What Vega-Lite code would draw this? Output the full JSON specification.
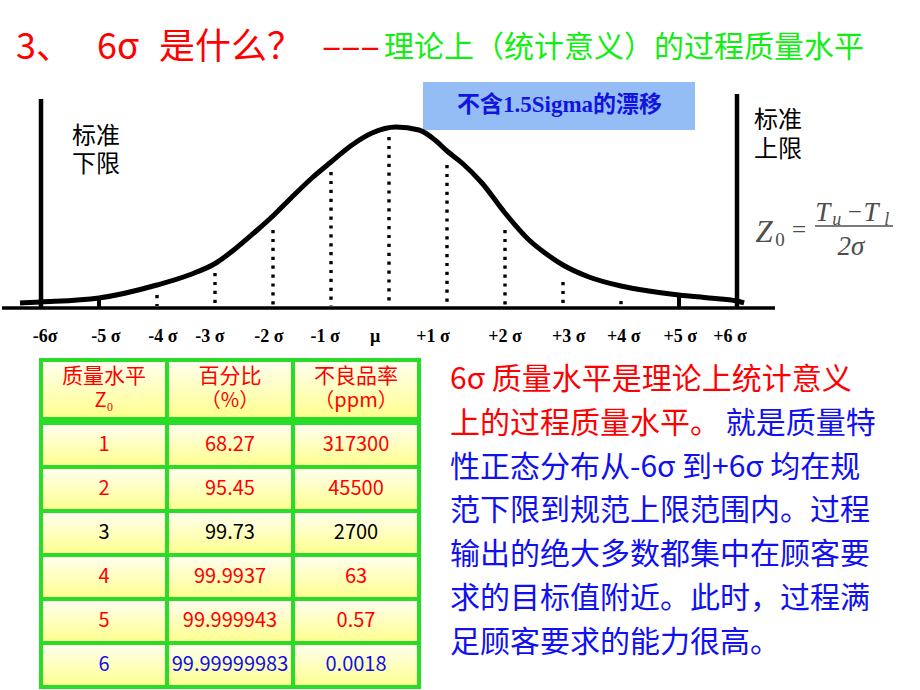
{
  "$schema": "https://vega.github.io/schema/vega-lite/v6.json",
  "padding": 0,
  "background": "white",
  "spacing": 0,
  "config": {"view": {"stroke": null}, "concat": {"spacing": 0}},
  "resolve": {"scale": {"color": "independent"}},
  "vconcat": [
    {
      "width": 920,
      "height": 355,
      "encoding": {
        "x": {"field": "s", "type": "quantitative", "scale": {"domain": [-6.6724, 9.1897], "nice": false, "zero": false}, "axis": null},
        "y": {"field": "h", "type": "quantitative", "scale": {"domain": [-47, 308], "nice": false, "zero": false}, "axis": null}
      },
      "layer": [
        {
          "data": {"values": [{"s": 0.586, "s2": 5.276, "h": 178, "h2": 226}]},
          "mark": {"type": "rect", "fill": "#94BDF5"},
          "encoding": {"x2": {"field": "s2"}, "y2": {"field": "h2"}}
        },
        {
          "data": {"values": [{"s": 2.94, "h": 203, "text": "不含1.5Sigma的漂移"}]},
          "mark": {"type": "text", "font": "Liberation Serif, Noto Sans CJK SC", "fontWeight": "bold", "fontSize": 23, "fill": "#1414E0", "align": "center", "baseline": "middle"},
          "encoding": {"text": {"field": "text"}}
        },
        {
          "data": {"values": [
            {"s": -6.362, "h": 5}, {"s": -6.0, "h": 6}, {"s": -5.0, "h": 10}, {"s": -4.0, "h": 23},
            {"s": -3.448, "h": 33}, {"s": -2.983, "h": 45}, {"s": -2.655, "h": 59}, {"s": -2.31, "h": 76},
            {"s": -1.983, "h": 93}, {"s": -1.672, "h": 111}, {"s": -1.328, "h": 130}, {"s": -1.0, "h": 146},
            {"s": -0.638, "h": 163}, {"s": -0.293, "h": 175}, {"s": 0.12, "h": 181}, {"s": 0.517, "h": 178},
            {"s": 0.793, "h": 168}, {"s": 1.0, "h": 157}, {"s": 1.259, "h": 145}, {"s": 1.603, "h": 125},
            {"s": 2.0, "h": 95}, {"s": 2.414, "h": 68}, {"s": 2.69, "h": 55}, {"s": 3.0, "h": 43},
            {"s": 3.448, "h": 31}, {"s": 4.0, "h": 22}, {"s": 4.483, "h": 17}, {"s": 5.0, "h": 13},
            {"s": 5.517, "h": 10}, {"s": 6.0, "h": 7}, {"s": 6.121, "h": 5}
          ]},
          "mark": {"type": "line", "color": "black", "strokeWidth": 5, "interpolate": "monotone"}
        },
        {
          "data": {"values": [
            {"s": -4, "h": 13, "h2": 2}, {"s": -3, "h": 35, "h2": 2}, {"s": -2, "h": 78, "h2": 2},
            {"s": -1, "h": 136, "h2": 2}, {"s": 0, "h": 171, "h2": 2}, {"s": 1, "h": 143, "h2": 2},
            {"s": 2, "h": 78, "h2": 2}, {"s": 3, "h": 26, "h2": 2}, {"s": 4, "h": 7, "h2": 2}
          ]},
          "mark": {"type": "rule", "color": "black", "strokeWidth": 3.4, "strokeDash": [3.2, 5.7]},
          "encoding": {"y2": {"field": "h2"}}
        },
        {
          "data": {"values": [{"s": -5, "h": 11, "h2": 0}, {"s": 5, "h": 11, "h2": 0}]},
          "mark": {"type": "rule", "color": "black", "strokeWidth": 4},
          "encoding": {"y2": {"field": "h2"}}
        },
        {
          "data": {"values": [{"s": -6, "h": 209, "h2": 0}, {"s": 6, "h": 214, "h2": 0}]},
          "mark": {"type": "rule", "color": "black", "strokeWidth": 4.5},
          "encoding": {"y2": {"field": "h2"}}
        },
        {
          "data": {"values": [{"s": -6.672, "s2": 6.655, "h": 0}]},
          "mark": {"type": "rule", "color": "black", "strokeWidth": 3.5},
          "encoding": {"x2": {"field": "s2"}}
        },
        {
          "data": {"values": [
            {"s": -5.93, "h": -29, "text": "-6σ"}, {"s": -4.88, "h": -29, "text": "-5 σ"},
            {"s": -3.9, "h": -29, "text": "-4 σ"}, {"s": -3.09, "h": -29, "text": "-3 σ"},
            {"s": -2.07, "h": -29, "text": "-2 σ"}, {"s": -1.1, "h": -29, "text": "-1 σ"},
            {"s": -0.24, "h": -29, "text": "μ"}, {"s": 0.76, "h": -29, "text": "+1 σ"},
            {"s": 2.0, "h": -29, "text": "+2 σ"}, {"s": 3.1, "h": -29, "text": "+3 σ"},
            {"s": 4.05, "h": -29, "text": "+4 σ"}, {"s": 5.02, "h": -29, "text": "+5 σ"},
            {"s": 5.88, "h": -29, "text": "+6 σ"}
          ]},
          "mark": {"type": "text", "font": "Liberation Serif", "fontWeight": "bold", "fontSize": 18, "fill": "black", "align": "center", "baseline": "middle"},
          "encoding": {"text": {"field": "text"}}
        },
        {
          "data": {"values": [
            {"s": -5.466, "h": 171, "text": "标准"},
            {"s": -5.466, "h": 143, "text": "下限"},
            {"s": 6.293, "h": 187, "text": "标准"},
            {"s": 6.293, "h": 158, "text": "上限"}
          ]},
          "mark": {"type": "text", "font": "Noto Sans CJK SC", "fontSize": 24, "fill": "black", "align": "left", "baseline": "middle"},
          "encoding": {"text": {"field": "text"}}
        },
        {
          "data": {"values": [
            {"s": -6.431, "h": 260, "text": "3、"},
            {"s": -5.034, "h": 260, "text": "6σ"},
            {"s": -3.966, "h": 260, "text": "是什么？"},
            {"s": -1.155, "h": 260, "text": "–––"}
          ]},
          "mark": {"type": "text", "font": "Noto Sans CJK SC", "fontSize": 36, "fill": "#FF0000", "align": "left", "baseline": "middle"},
          "encoding": {"text": {"field": "text"}}
        },
        {
          "data": {"values": [{"s": -0.086, "h": 260, "text": "理论上（统计意义）的过程质量水平"}]},
          "mark": {"type": "text", "font": "Noto Sans CJK SC", "fontSize": 30, "fill": "#12EE12", "align": "left", "baseline": "middle"},
          "encoding": {"text": {"field": "text"}}
        },
        {
          "data": {"values": [{"s": 6.466, "h": 75, "text": "Z"}]},
          "mark": {"type": "text", "font": "Liberation Serif", "fontStyle": "italic", "fontSize": 31, "fill": "#4D4D4D", "align": "center", "baseline": "middle"},
          "encoding": {"text": {"field": "text"}}
        },
        {
          "data": {"values": [
            {"s": 7.48, "h": 95, "text": "T"},
            {"s": 8.31, "h": 95, "text": "T"},
            {"s": 7.966, "h": 61, "text": "2σ"}
          ]},
          "mark": {"type": "text", "font": "Liberation Serif", "fontStyle": "italic", "fontSize": 27, "fill": "#4D4D4D", "align": "center", "baseline": "middle"},
          "encoding": {"text": {"field": "text"}}
        },
        {
          "data": {"values": [
            {"s": 7.72, "h": 88, "text": "u"},
            {"s": 8.58, "h": 88, "text": "l"}
          ]},
          "mark": {"type": "text", "font": "Liberation Serif", "fontStyle": "italic", "fontSize": 18, "fill": "#4D4D4D", "align": "center", "baseline": "middle"},
          "encoding": {"text": {"field": "text"}}
        },
        {
          "data": {"values": [
            {"s": 7.069, "h": 78, "text": "="},
            {"s": 8.03, "h": 96, "text": "−"}
          ]},
          "mark": {"type": "text", "font": "Liberation Serif", "fontSize": 25, "fill": "#4D4D4D", "align": "center", "baseline": "middle"},
          "encoding": {"text": {"field": "text"}}
        },
        {
          "data": {"values": [{"s": 6.74, "h": 68, "text": "0"}]},
          "mark": {"type": "text", "font": "Liberation Serif", "fontSize": 19, "fill": "#4D4D4D", "align": "center", "baseline": "middle"},
          "encoding": {"text": {"field": "text"}}
        },
        {
          "data": {"values": [{"s": 7.345, "s2": 8.69, "h": 82}]},
          "mark": {"type": "rule", "color": "#4D4D4D", "strokeWidth": 1.5},
          "encoding": {"x2": {"field": "s2"}}
        }
      ]
    },
    {
      "spacing": 0,
      "resolve": {"scale": {"color": "independent"}},
      "hconcat": [
        {
          "spacing": 0,
          "vconcat": [
            {
              "width": 430,
              "height": 64,
              "data": {"values": [
                {"row": "h", "col": "c1", "t1": "质量水平", "t2": "Z₀"},
                {"row": "h", "col": "c2", "t1": "百分比", "t2": "（%）"},
                {"row": "h", "col": "c3", "t1": "不良品率", "t2": "（ppm）"}
              ]},
              "encoding": {
                "x": {"field": "col", "type": "nominal", "scale": {"domain": ["c1", "c2", "c3"], "paddingInner": 0, "paddingOuter": 0.2063, "align": 0.75}, "axis": null},
                "y": {"field": "row", "type": "nominal", "scale": {"domain": ["h"], "paddingInner": 0, "paddingOuter": 0.04237, "align": 1}, "axis": null}
              },
              "layer": [
                {
                  "mark": {
                    "type": "rect",
                    "fill": {"gradient": "linear", "x1": 0, "y1": 0, "x2": 0, "y2": 1, "stops": [{"offset": 0, "color": "#FFFFF2"}, {"offset": 1, "color": "#FFFF8C"}]},
                    "stroke": "#28DC28",
                    "strokeWidth": 4
                  }
                },
                {
                  "mark": {"type": "text", "font": "Noto Sans CJK SC", "fontSize": 21, "fill": "#FF0000", "align": "center", "baseline": "middle", "dy": -12.5},
                  "encoding": {"text": {"field": "t1"}}
                },
                {
                  "mark": {"type": "text", "font": "Noto Sans CJK SC", "fontSize": 20, "fill": "#FF0000", "align": "center", "baseline": "middle", "dy": 12},
                  "encoding": {"text": {"field": "t2"}}
                }
              ]
            },
            {
              "width": 430,
              "height": 271,
              "data": {"values": [
                {"row": "1", "col": "c1", "text": "1"},
                {"row": "1", "col": "c2", "text": "68.27"},
                {"row": "1", "col": "c3", "text": "317300"},
                {"row": "2", "col": "c1", "text": "2"},
                {"row": "2", "col": "c2", "text": "95.45"},
                {"row": "2", "col": "c3", "text": "45500"},
                {"row": "3", "col": "c1", "text": "3"},
                {"row": "3", "col": "c2", "text": "99.73"},
                {"row": "3", "col": "c3", "text": "2700"},
                {"row": "4", "col": "c1", "text": "4"},
                {"row": "4", "col": "c2", "text": "99.9937"},
                {"row": "4", "col": "c3", "text": "63"},
                {"row": "5", "col": "c1", "text": "5"},
                {"row": "5", "col": "c2", "text": "99.999943"},
                {"row": "5", "col": "c3", "text": "0.57"},
                {"row": "6", "col": "c1", "text": "6"},
                {"row": "6", "col": "c2", "text": "99.99999983"},
                {"row": "6", "col": "c3", "text": "0.0018"}
              ]},
              "encoding": {
                "x": {"field": "col", "type": "nominal", "scale": {"domain": ["c1", "c2", "c3"], "paddingInner": 0, "paddingOuter": 0.2063, "align": 0.75}, "axis": null},
                "y": {"field": "row", "type": "nominal", "scale": {"domain": ["1", "2", "3", "4", "5", "6"], "paddingInner": 0, "paddingOuter": 0.0795, "align": 0}, "axis": null}
              },
              "layer": [
                {
                  "mark": {
                    "type": "rect",
                    "fill": {"gradient": "linear", "x1": 0, "y1": 0, "x2": 0, "y2": 1, "stops": [{"offset": 0, "color": "#FFFFF2"}, {"offset": 1, "color": "#FFFF8C"}]},
                    "stroke": "#28DC28",
                    "strokeWidth": 4
                  }
                },
                {
                  "mark": {"type": "text", "font": "Noto Sans CJK SC", "fontSize": 20, "align": "center", "baseline": "middle"},
                  "encoding": {
                    "text": {"field": "text"},
                    "color": {"field": "row", "type": "nominal", "scale": {"domain": ["1", "2", "3", "4", "5", "6"], "range": ["#FF0000", "#FF0000", "#000000", "#FF0000", "#FF0000", "#1010E8"]}, "legend": null}
                  }
                }
              ]
            }
          ]
        },
        {
          "width": 490,
          "height": 335,
          "data": {"values": [
            {"line": 1, "start": 0, "part": "r", "text": "6σ 质量水平是理论上统计意义"},
            {"line": 2, "start": 0, "part": "r", "text": "上的过程质量水平。"},
            {"line": 2, "start": 9, "part": "b", "text": "就是质量特"},
            {"line": 3, "start": 0, "part": "b", "text": "性正态分布从-6σ 到+6σ 均在规"},
            {"line": 4, "start": 0, "part": "b", "text": "范下限到规范上限范围内。过程"},
            {"line": 5, "start": 0, "part": "b", "text": "输出的绝大多数都集中在顾客要"},
            {"line": 6, "start": 0, "part": "b", "text": "求的目标值附近。此时，过程满"},
            {"line": 7, "start": 0, "part": "b", "text": "足顾客要求的能力很高。"}
          ]},
          "mark": {"type": "text", "font": "Noto Sans CJK SC", "fontSize": 30, "align": "left", "baseline": "middle"},
          "encoding": {
            "x": {"field": "start", "type": "quantitative", "scale": {"domain": [-0.588, 15.412], "nice": false, "zero": false}, "axis": null},
            "y": {"field": "line", "type": "quantitative", "scale": {"domain": [0.4296, 8.073], "nice": false, "zero": false, "reverse": true}, "axis": null},
            "text": {"field": "text"},
            "color": {"field": "part", "type": "nominal", "scale": {"domain": ["r", "b"], "range": ["#FF0000", "#1010F0"]}, "legend": null}
          }
        }
      ]
    }
  ]
}
